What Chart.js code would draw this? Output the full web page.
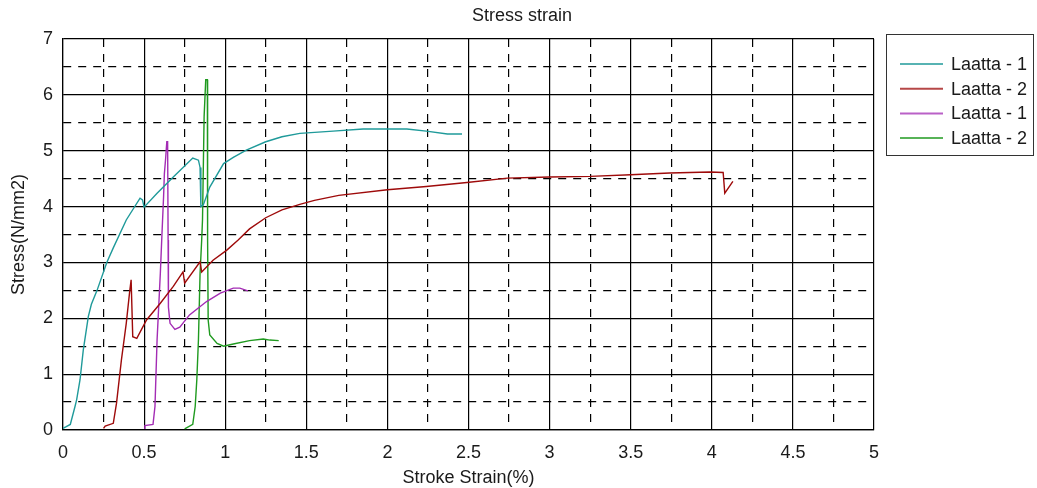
<!DOCTYPE html>
<html>
<head>
<meta charset="utf-8">
<script src="https://cdn.jsdelivr.net/npm/chart.js@4"></script>
<style>
  body { margin: 0; background: #fff; }
</style>
</head>
<body>
<canvas id="myChart" width="1037" height="488"></canvas>
<script>
// series labels and colours
var names = ['Laatta - 1', 'Laatta - 2', 'Laatta - 1', 'Laatta - 2'];
var colors = ['#1f9a9a', '#9e0a0a', '#a32cb4', '#1f9a1f'];
var chartTitle = 'Stress strain';

// strain (%) / stress (N/mm2)
var strain1 = [0, 0.02, 0.045, 0.074, 0.084, 0.105, 0.125, 0.156, 0.175, 0.21, 0.27, 0.31, 0.39, 0.475, 0.49, 0.5, 0.58, 0.68, 0.80, 0.835, 0.845, 0.85, 0.865, 0.905, 0.99, 1.05, 1.13, 1.25, 1.35, 1.46, 1.665, 1.85, 2.0, 2.12, 2.24, 2.37, 2.46];
var stress1 = [0.03, 0.06, 0.1, 0.42, 0.54, 0.9, 1.43, 2.03, 2.25, 2.5, 3.0, 3.26, 3.76, 4.15, 4.12, 3.99, 4.24, 4.53, 4.87, 4.83, 4.7, 4.0, 4.03, 4.35, 4.77, 4.88, 5.01, 5.16, 5.25, 5.31, 5.35, 5.39, 5.39, 5.39, 5.35, 5.30, 5.30];

var strain2 = [0.25, 0.26, 0.31, 0.33, 0.36, 0.39, 0.41, 0.42, 0.43, 0.455, 0.515, 0.60, 0.68, 0.74, 0.75, 0.845, 0.855, 0.925, 1.01, 1.08, 1.15, 1.25, 1.35, 1.46, 1.55, 1.7, 2.0, 2.24, 2.49, 2.74, 3.0, 3.25, 3.5, 3.74, 3.99, 4.07, 4.08, 4.13];
var stress2 = [0.03, 0.07, 0.12, 0.48, 1.25, 1.91, 2.45, 2.69, 1.67, 1.64, 1.97, 2.27, 2.57, 2.83, 2.63, 3.01, 2.83, 3.04, 3.22, 3.4, 3.6, 3.8, 3.94, 4.04, 4.11, 4.2, 4.30, 4.36, 4.43, 4.51, 4.53, 4.54, 4.57, 4.60, 4.62, 4.61, 4.24, 4.45];

var strain3 = [0.5, 0.505, 0.555, 0.567, 0.58, 0.60, 0.61, 0.62, 0.625, 0.633, 0.64, 0.645, 0.648, 0.65, 0.66, 0.69, 0.72, 0.78, 0.885, 0.97, 1.05, 1.09, 1.14];
var stress3 = [0.03, 0.08, 0.1, 0.42, 1.61, 2.8, 3.5, 4.17, 4.59, 4.87, 5.16, 5.16, 3.4, 2.2, 1.91, 1.80, 1.84, 2.06, 2.30, 2.45, 2.54, 2.54, 2.49];

var strain4 = [0.75, 0.8, 0.815, 0.825, 0.835, 0.845, 0.855, 0.86, 0.87, 0.88, 0.89, 0.89, 0.893, 0.895, 0.905, 0.95, 0.99, 1.05, 1.15, 1.235, 1.275, 1.33];
var stress4 = [0.02, 0.1, 0.42, 0.9, 1.61, 2.8, 3.4, 3.76, 5.61, 6.27, 6.27, 5.6, 3.4, 1.97, 1.70, 1.55, 1.50, 1.54, 1.60, 1.63, 1.61, 1.60];

// ticks: grid every 0.25 / 0.5, labels only on the major lines
var xTicks = [0, 0.25, 0.5, 0.75, 1, 1.25, 1.5, 1.75, 2, 2.25, 2.5, 2.75, 3, 3.25, 3.5, 3.75, 4, 4.25, 4.5, 4.75, 5];
var xLabels = ['0', '', '0.5', '', '1', '', '1.5', '', '2', '', '2.5', '', '3', '', '3.5', '', '4', '', '4.5', '', '5'];
var yTicks = [0, 0.5, 1, 1.5, 2, 2.5, 3, 3.5, 4, 4.5, 5, 5.5, 6, 6.5, 7];
var yLabels = ['0', '', '1', '', '2', '', '3', '', '4', '', '5', '', '6', '', '7'];

function pairs(xs, ys) {
    var out = [];
    for (var i = 0; i < xs.length; i++) {
        out.push({x: xs[i], y: ys[i]});
    }
    return out;
}

var seriesX = [strain1, strain2, strain3, strain4];
var seriesY = [stress1, stress2, stress3, stress4];
var datasets = [];
for (var i = 0; i < names.length; i++) {
    datasets.push({
        label: names[i],
        data: pairs(seriesX[i], seriesY[i]),
        borderColor: colors[i],
        borderWidth: 1.4,
        pointRadius: 0,
        tension: 0,
        fill: false
    });
}

var font = '"Liberation Sans", Arial, sans-serif';

// title over the whole picture + boxed legend on the right
var extras = {
    id: 'extras',
    afterDraw: function(chart) {
        var ctx = chart.ctx;
        ctx.save();
        ctx.fillStyle = '#1a1a1a';
        ctx.font = '18px ' + font;
        ctx.textAlign = 'center';
        ctx.textBaseline = 'middle';
        ctx.fillText(chartTitle, 522, 16);

        ctx.textAlign = 'left';
        ctx.strokeStyle = '#333';
        ctx.lineWidth = 1;
        ctx.strokeRect(886.5, 34.5, 147, 121);
        chart.data.datasets.forEach(function(ds, k) {
            var y = 64 + k * 24.7;
            ctx.strokeStyle = ds.borderColor;
            ctx.globalAlpha = 0.75;
            ctx.lineWidth = 2;
            ctx.beginPath();
            ctx.moveTo(900, y);
            ctx.lineTo(943, y);
            ctx.stroke();
            ctx.globalAlpha = 1;
            ctx.fillText(ds.label, 951, y + 1);
        });
        ctx.restore();
    }
};

var dashed = function(c) { return (c.index % 2 === 1) ? [8, 7] : []; };

var ctx = document.getElementById('myChart').getContext('2d');
var chart = new Chart(ctx, {
    type: 'line',
    data: { datasets: datasets },
    plugins: [extras],
    options: {
        responsive: false,
        animation: false,
        layout: { padding: { left: 0, right: 163, top: 39, bottom: 0 } },
        plugins: {
            legend: { display: false },
            tooltip: { enabled: false },
            title: { display: false }
        },
        scales: {
            x: {
                type: 'linear',
                min: 0,
                max: 5,
                afterBuildTicks: function(scale) {
                    scale.ticks = xTicks.map(function(v) { return {value: v}; });
                },
                afterFit: function(scale) { scale.height = 58; },
                ticks: {
                    color: '#1a1a1a',
                    font: { family: font, size: 18 },
                    padding: 12,
                    maxRotation: 0,
                    autoSkip: false,
                    callback: function(v, idx) { return xLabels[idx]; }
                },
                grid: {
                    color: '#000',
                    lineWidth: 1.2,
                    drawTicks: false
                },
                border: {
                    display: true,
                    color: '#000',
                    width: 1.2,
                    dash: dashed
                },
                title: {
                    display: true,
                    text: 'Stroke Strain(%)',
                    color: '#1a1a1a',
                    font: { family: font, size: 18, lineHeight: 1 },
                    padding: { top: 0, bottom: 1 }
                }
            },
            y: {
                type: 'linear',
                min: 0,
                max: 7,
                afterBuildTicks: function(scale) {
                    scale.ticks = yTicks.map(function(v) { return {value: v}; });
                },
                afterFit: function(scale) { scale.width = 63; },
                ticks: {
                    color: '#1a1a1a',
                    font: { family: font, size: 18 },
                    padding: 10,
                    autoSkip: false,
                    callback: function(v, idx) { return yLabels[idx]; }
                },
                grid: {
                    color: '#000',
                    lineWidth: 1.2,
                    drawTicks: false
                },
                border: {
                    display: true,
                    color: '#000',
                    width: 1.2,
                    dash: dashed
                },
                title: {
                    display: true,
                    text: 'Stress(N/mm2)',
                    color: '#1a1a1a',
                    font: { family: font, size: 18, lineHeight: 1 },
                    padding: { top: 10, bottom: 0 }
                }
            }
        }
    }
});
</script>
</body>
</html>
